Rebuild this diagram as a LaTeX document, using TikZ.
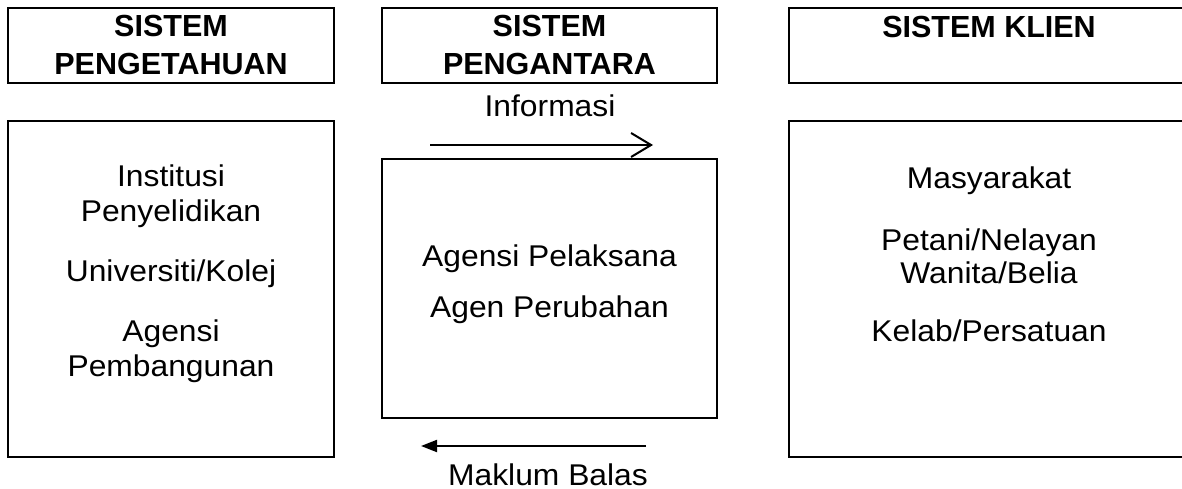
\documentclass[tikz,border=0pt]{standalone}
\usepackage{fontspec}
\setmainfont{Liberation Sans}
\newfontfamily\widesans{Liberation Sans}[FakeStretch=1.06]
\usetikzlibrary{arrows.meta}

\begin{document}
\begin{tikzpicture}[x=1pt, y=-1pt,
  box/.style={draw, line width=2.5pt, inner sep=0pt},
  hdr/.style={align=center, font=\fontsize{30.5}{38}\selectfont\bfseries},
  txt/.style={align=center, inner sep=0pt, font=\widesans\fontsize{30}{35}\selectfont}]
\useasboundingbox (0,0) rectangle (1182,489);
\clip (0,0) rectangle (1182,489);
% header boxes
\node (kh)[box, hdr, minimum width=326pt, minimum height=75pt] at (171,45.5) {SISTEM\\PENGETAHUAN};
\node (lh)[box, hdr, minimum width=335pt, minimum height=75pt] at (549.5,45.5) {SISTEM\\PENGANTARA};
\node (ch)[box, hdr, minimum width=400pt, minimum height=75pt] at (989,45.5) {SISTEM KLIEN\\\mbox{}};
% main boxes
\node (kbox)[box, minimum width=326pt, minimum height=336pt] at (171,289) {};
\node (lbox)[box, minimum width=335pt, minimum height=259pt] at (549.5,288.5) {};
\node (cbox)[box, minimum width=400pt, minimum height=336pt] at (989,289) {};
% box texts
\node (ktext)[txt, anchor=north, yshift=-44.5pt] at (kbox.north)
  {Institusi\\Penyelidikan\\[25pt]Universiti/Kolej\\[25pt]Agensi\\Pembangunan};
\node (ltext)[txt, anchor=north, yshift=-86.5pt] at (lbox.north)
  {Agensi Pelaksana\\[16pt]Agen Perubahan};
\node (ctext)[txt, anchor=north, yshift=-46.5pt] at (cbox.north)
  {Masyarakat\\[27pt]Petani/Nelayan\\[-2pt]Wanita/Belia\\[23pt]Kelab/Persatuan};
% flows
\coordinate (i1) at (430,145);
\coordinate (i2) at (653,145);
\coordinate (m1) at (646,446);
\coordinate (m2) at (421,446);
\draw[line width=2pt, -{Straight Barb[length=20pt,width=24pt,line width=2pt]}] (i1) -- (i2);
\draw[line width=2pt, -{Triangle[length=16pt,width=12pt]}] (m1) -- (m2);
\node (info)[txt, anchor=base] at (550,117) {Informasi};
\node (balas)[txt, anchor=base, text depth=0pt] at (548,485) {Maklum Balas};
\end{tikzpicture}
\end{document}
